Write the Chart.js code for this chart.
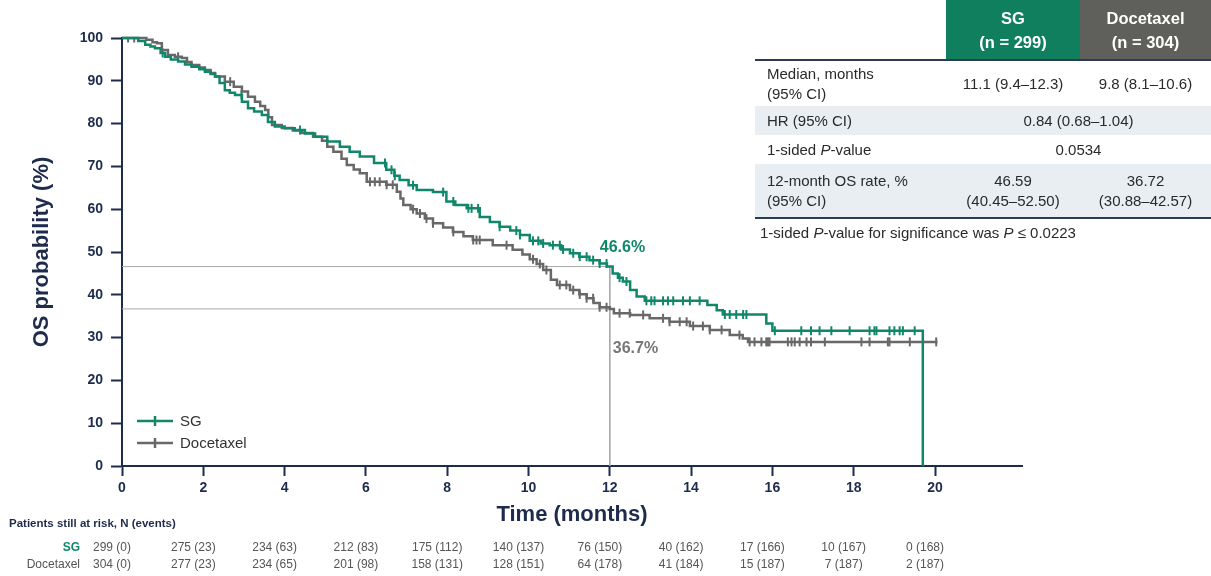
<!DOCTYPE html>
<html lang="en">
<head>
<meta charset="UTF-8">
<title>OS probability - SG vs Docetaxel</title>
<script src="https://cdn.jsdelivr.net/npm/chart.js"></script>
<style>
  body { margin: 0; background: #fff; font-family: "Liberation Sans", Arial, sans-serif; }
  #wrap { position: relative; width: 1211px; height: 576px; }
  #stats {
    position: absolute; left: 755px; top: 0; width: 456px;
    border-collapse: collapse; table-layout: fixed;
    font-size: 15px; line-height: 20px; color: #2a2a2a;
  }
  #stats td { padding: 0; text-align: center; vertical-align: middle; }
  #stats td:first-child { text-align: left; padding-left: 12px; }
  #stats tr.head td { height: 59px; border-bottom: 2px solid #2c3a58; color: #fff; font-weight: bold; font-size: 16.5px; line-height: 24px; }
  #stats td.sg { background: #0f7f5e; }
  #stats td.doc { background: #5f605b; }
  #stats tr.r1 td { height: 45px; }
  #stats tr.r2 td, #stats tr.r3 td { height: 29px; }
  #stats tr.r4 td { height: 53px; border-bottom: 2px solid #2c3a58; }
  #stats tr.shade td { background: #e8eef2; }
  #foot { position: absolute; left: 760px; top: 224px; font-size: 15px; color: #2a2a2a; }
</style>
</head>
<body>
<div id="wrap">
  <canvas id="km"></canvas>
  <table id="stats">
    <colgroup><col style="width:191px"><col style="width:134px"><col style="width:131px"></colgroup>
    <tr class="head"><td></td><td class="sg">SG<br>(n = 299)</td><td class="doc">Docetaxel<br>(n = 304)</td></tr>
    <tr class="r1"><td>Median, months<br>(95% CI)</td><td>11.1 (9.4–12.3)</td><td>9.8 (8.1–10.6)</td></tr>
    <tr class="r2 shade"><td>HR (95% CI)</td><td colspan="2">0.84 (0.68–1.04)</td></tr>
    <tr class="r3"><td>1-sided <i>P</i>-value</td><td colspan="2">0.0534</td></tr>
    <tr class="r4 shade"><td>12-month OS rate, %<br>(95% CI)</td><td>46.59<br>(40.45–52.50)</td><td>36.72<br>(30.88–42.57)</td></tr>
  </table>
  <div id="foot">1-sided <i>P</i>-value for significance was <i>P</i> ≤ 0.0223</div>
</div>
<script>
// Kaplan-Meier step knots (time in months, survival in %)
const sgTime = [0, 0.4, 0.57, 0.7, 0.81, 0.95, 1.06, 1.2, 1.38, 1.55, 1.71, 1.9, 2.04, 2.18, 2.29, 2.4, 2.53, 2.65, 2.78, 2.95,
  3.1, 3.25, 3.44, 3.59, 3.76, 4.0, 4.25, 4.5, 4.75, 5.05, 5.36, 5.6, 5.85, 6.2, 6.5, 6.7, 6.83, 7.05, 7.25, 7.65,
  7.98, 8.2, 8.48, 8.8, 9.05, 9.29, 9.55, 9.79, 10.03, 10.3, 10.52, 10.8, 11.02, 11.25, 11.5, 11.75, 11.93, 12.07, 12.2, 12.32,
  12.5, 12.66, 12.86, 14.4, 14.63, 14.78, 15.85, 16.0, 19.7];
const sgSurv = [100, 99.3, 98.4, 98.0, 97.6, 96.5, 95.6, 95.0, 94.5, 93.8, 93.3, 92.7, 92.1, 91.6, 91.0, 89.5, 87.8, 87.2, 86.7, 85.1,
  83.6, 82.8, 82.0, 80.4, 79.3, 78.9, 78.5, 77.7, 76.9, 75.8, 74.6, 73.4, 72.3, 70.8, 69.2, 67.8, 66.8, 65.6, 64.5, 64.0,
  61.8, 61.0, 60.2, 58.2, 57.0, 55.9, 55.0, 54.0, 52.6, 52.0, 51.6, 50.6, 49.7, 48.9, 48.1, 47.3, 46.6, 45.0, 44.0, 43.1,
  41.1, 39.6, 38.6, 37.6, 36.4, 35.4, 33.3, 31.6, 0];

const docTime = [0, 0.6, 0.75, 0.86, 0.98, 1.13, 1.3, 1.47, 1.6, 1.71, 1.9, 2.04, 2.18, 2.29, 2.53, 2.75, 2.95, 3.1, 3.27, 3.4,
  3.52, 3.6, 3.69, 3.93, 4.2, 4.43, 4.7, 4.92, 5.05, 5.2, 5.4, 5.53, 5.7, 5.85, 6.02, 6.5, 6.76, 6.85, 6.92, 7.1,
  7.25, 7.45, 7.65, 7.9, 8.14, 8.4, 8.63, 9.12, 9.61, 9.85, 10.03, 10.2, 10.36, 10.55, 10.7, 11.02, 11.25, 11.43, 11.6, 11.75,
  12.0, 12.1, 12.5, 12.98, 13.47, 13.97, 14.46, 14.95, 15.27, 15.4, 20.06];
const docSurv = [100, 99.6, 99.0, 98.8, 97.2, 96.0, 95.6, 95.3, 94.4, 93.7, 93.1, 92.5, 91.8, 91.0, 89.8, 88.6, 87.5, 86.3, 85.1, 84.1,
  83.2, 81.5, 79.7, 79.0, 78.4, 77.8, 76.9, 76.0, 74.6, 73.4, 71.8, 70.3, 69.3, 68.4, 66.4, 65.7, 64.1, 62.5, 61.0, 60.0,
  59.0, 57.8, 56.7, 55.7, 54.7, 53.7, 52.8, 51.6, 50.5, 49.4, 48.3, 47.2, 45.8, 43.5, 42.3, 41.1, 40.1, 39.2, 38.1, 37.1,
  36.7, 35.7, 35.3, 34.5, 33.7, 32.7, 31.8, 30.6, 29.8, 29.0, 29.0];

// censoring times (months)
const sgCensor = [1.0, 2.94, 4.38, 6.47, 6.63, 6.71, 7.16, 7.9, 8.15, 8.52, 8.6, 8.76, 9.29, 9.7, 9.79, 10.11, 10.24, 10.36, 10.6,
  10.77, 10.85, 11.1, 11.26, 11.43, 11.59, 11.75, 11.92, 12.24, 12.41, 12.9, 13.02, 13.1, 13.31, 13.43, 13.56, 13.8, 13.97, 14.21,
  14.83, 14.95, 15.11, 15.28, 15.36, 16.06, 16.71, 16.95, 17.16, 17.45, 17.9, 18.39, 18.51, 18.56, 18.88, 19.0, 19.13, 19.21, 19.5];
const docCensor = [0.15, 0.3, 1.38, 2.66, 6.1, 6.22, 6.34, 6.51, 6.66, 7.16, 7.33, 7.49, 7.65, 8.15, 8.64, 8.72, 8.8, 9.46, 10.11,
  10.28, 10.44, 10.77, 10.93, 11.1, 11.26, 11.43, 11.59, 11.75, 11.92, 12.24, 12.49, 12.82, 13.31, 13.47, 13.72, 13.89, 14.05, 14.29,
  14.46, 14.75, 15.19, 15.44, 15.56, 15.73, 15.85, 15.89, 15.93, 16.38, 16.47, 16.55, 16.67, 16.84, 16.95, 17.29, 18.19, 18.39,
  18.84, 18.88, 19.38, 20.03];

const xTicks = [0, 2, 4, 6, 8, 10, 12, 14, 16, 18, 20];
const yTicks = [0, 10, 20, 30, 40, 50, 60, 70, 80, 90, 100];

const riskTimes = [0, 2, 4, 6, 8, 10, 12, 14, 16, 18, 20];
const riskSG = ['299 (0)', '275 (23)', '234 (63)', '212 (83)', '175 (112)', '140 (137)', '76 (150)', '40 (162)', '17 (166)', '10 (167)', '0 (168)'];
const riskDoc = ['304 (0)', '277 (23)', '234 (65)', '201 (98)', '158 (131)', '128 (151)', '64 (178)', '41 (184)', '15 (187)', '7 (187)', '2 (187)'];

const landmark = 12;
const sgAt12 = 46.6;
const docAt12 = 36.7;

const GREEN = '#10876a';
const GREY = '#686868';
const NAVY = '#1e2b4c';
const FONT = '"Liberation Sans", Arial, sans-serif';

function survAt(times, surv, t) {
  let v = surv[0];
  for (let i = 0; i < times.length; i++) if (times[i] <= t) v = surv[i];
  return v;
}
const pts = (ts, vs) => ts.map((t, i) => ({ x: t, y: vs[i] }));
const censorPts = (cs, ts, vs) => cs.map(t => ({ x: t, y: survAt(ts, vs, t) }));

const decor = {
  id: 'decor',
  afterDraw(chart) {
    const { ctx, scales: { x, y } } = chart;
    ctx.save();
    // axis titles
    ctx.fillStyle = NAVY;
    ctx.font = 'bold 22px ' + FONT;
    ctx.textAlign = 'center';
    ctx.textBaseline = 'middle';
    ctx.fillText('Time (months)', (x.left + x.right) / 2, 515);
    ctx.save();
    ctx.translate(42, (y.top + y.bottom) / 2);
    ctx.rotate(-Math.PI / 2);
    ctx.fillText('OS probability (%)', 0, 0);
    ctx.restore();

    // 12-month labels
    ctx.textAlign = 'left';
    ctx.font = 'bold 16px ' + FONT;
    ctx.fillStyle = GREEN;
    ctx.fillText(sgAt12.toFixed(1) + '%', x.getPixelForValue(landmark) - 10, y.getPixelForValue(sgAt12) - 19);
    ctx.fillStyle = '#777';
    ctx.fillText(docAt12.toFixed(1) + '%', x.getPixelForValue(landmark) + 3, y.getPixelForValue(docAt12) + 40);

    // legend
    const leg = [['SG', GREEN, 421], ['Docetaxel', GREY, 443]];
    ctx.font = '15px ' + FONT;
    leg.forEach(([txt, col, ly]) => {
      ctx.strokeStyle = col; ctx.lineWidth = 2.5;
      ctx.beginPath(); ctx.moveTo(137, ly); ctx.lineTo(173, ly);
      ctx.moveTo(155, ly - 5); ctx.lineTo(155, ly + 5); ctx.stroke();
      ctx.fillStyle = '#333';
      ctx.fillText(txt, 180, ly + 1);
    });

    // numbers at risk
    ctx.fillStyle = NAVY;
    ctx.font = 'bold 11.5px ' + FONT;
    ctx.fillText('Patients still at risk, N (events)', 9, 524);
    ctx.textAlign = 'right';
    ctx.font = 'bold 12px ' + FONT;
    ctx.fillStyle = GREEN;
    ctx.fillText('SG', 80, 548);
    ctx.font = '12px ' + FONT;
    ctx.fillStyle = '#555';
    ctx.fillText('Docetaxel', 80, 565);
    ctx.textAlign = 'center';
    riskTimes.forEach((t, i) => {
      const px = x.getPixelForValue(t) - 10;
      ctx.fillText(riskSG[i], px, 548);
      ctx.fillText(riskDoc[i], px, 565);
    });
    ctx.restore();
  }
};

const tickFont = { size: 14, weight: 'bold', family: FONT };

new Chart(document.getElementById('km'), {
  type: 'line',
  data: {
    datasets: [
      { label: 'SG', data: pts(sgTime, sgSurv), borderColor: GREEN, borderWidth: 2.5, stepped: true, pointRadius: 0, clip: 6 },
      { label: 'Docetaxel', data: pts(docTime, docSurv), borderColor: GREY, borderWidth: 2.5, stepped: true, pointRadius: 0, clip: 6 },
      { label: 'SG censored', type: 'scatter', data: censorPts(sgCensor, sgTime, sgSurv), pointStyle: 'line', rotation: 90,
        pointRadius: 4.5, borderColor: GREEN, borderWidth: 2, showLine: false },
      { label: 'Docetaxel censored', type: 'scatter', data: censorPts(docCensor, docTime, docSurv), pointStyle: 'line', rotation: 90,
        pointRadius: 4.5, borderColor: GREY, borderWidth: 2, showLine: false },
      { label: 'ref SG', data: [{ x: 0, y: sgAt12 }, { x: landmark, y: sgAt12 }, { x: landmark, y: 0 }],
        borderColor: '#a8a8a8', borderWidth: 1, pointRadius: 0 },
      { label: 'ref Doc', data: [{ x: 0, y: docAt12 }, { x: landmark, y: docAt12 }],
        borderColor: '#a8a8a8', borderWidth: 1, pointRadius: 0 }
    ]
  },
  options: {
    responsive: true,
    maintainAspectRatio: false,
    animation: false,
    layout: { padding: { top: 38, right: 189, left: 0, bottom: 0 } },
    plugins: { legend: { display: false }, tooltip: { enabled: false } },
    scales: {
      x: {
        type: 'linear', min: 0, max: 22.14,
        afterBuildTicks: s => { s.ticks = xTicks.map(v => ({ value: v })); },
        afterFit: s => { s.height = 110; },
        ticks: { color: NAVY, font: tickFont, padding: 4, autoSkip: false, maxRotation: 0 },
        grid: { drawOnChartArea: false, drawTicks: true, tickLength: 10, tickWidth: 2, tickColor: NAVY },
        border: { color: NAVY, width: 2 }
      },
      y: {
        min: 0, max: 100,
        afterBuildTicks: s => { s.ticks = yTicks.map(v => ({ value: v })); },
        afterFit: s => { s.width = 122; },
        ticks: { color: NAVY, font: tickFont, padding: 8 },
        grid: { drawOnChartArea: false, drawTicks: true, tickLength: 11, tickWidth: 2, tickColor: NAVY },
        border: { color: NAVY, width: 2 }
      }
    }
  },
  plugins: [decor]
});
</script>
</body>
</html>
